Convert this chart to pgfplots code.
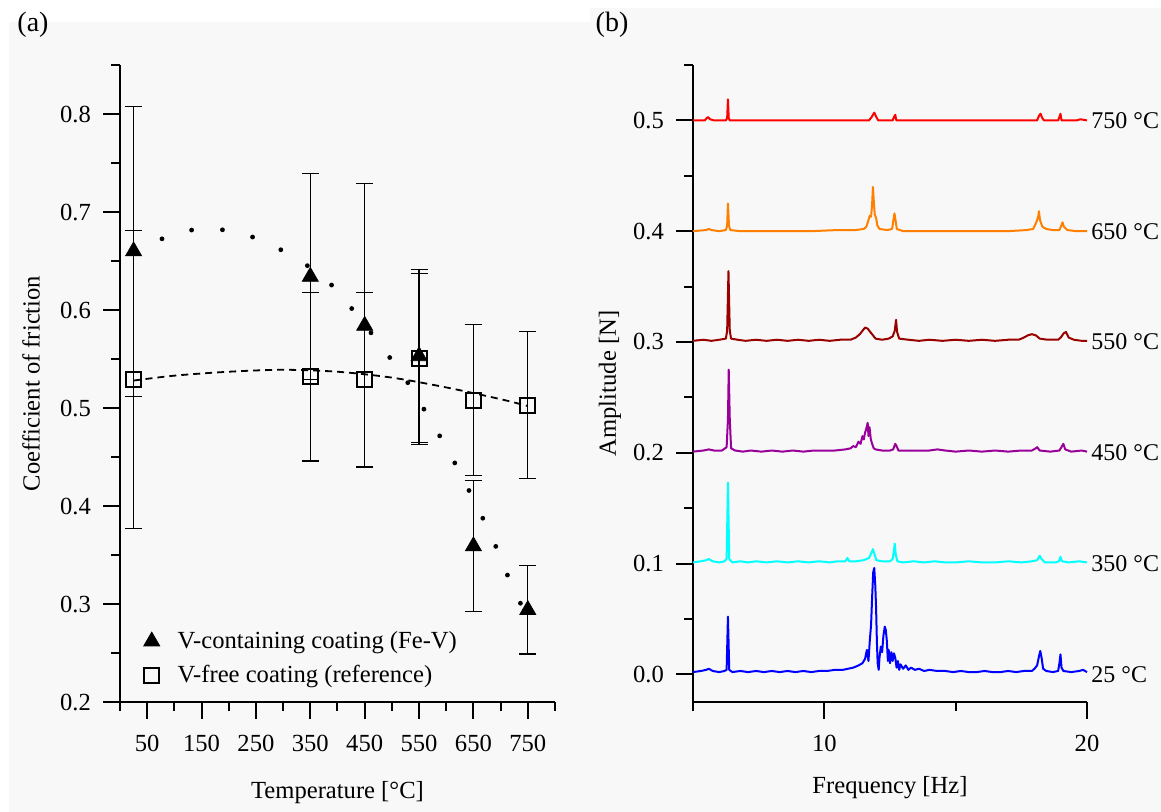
\documentclass[border=0pt]{standalone}
\usepackage{fontspec}
\setmainfont{Liberation Serif}
\usepackage{pgfplots}
\pgfplotsset{compat=1.18}
\definecolor{bgg}{RGB}{248,248,248}
\definecolor{c450}{RGB}{153,0,153}
\definecolor{c550}{RGB}{153,0,0}
\definecolor{c650}{RGB}{255,128,0}
\definecolor{c350}{RGB}{0,255,255}
\newcommand{\fs}{\fontsize{12.3}{14.8}\selectfont}
\newcommand{\fl}{\fontsize{12}{14}\selectfont}
\tikzset{tlab/.style={anchor=west, inner sep=2pt, font=\fl}}
\pgfplotsset{
  myaxis/.style={
    scale only axis,
    axis lines=left,
    axis line style={-, line width=1pt, black},
    tick align=outside,
    major tick length=8.5pt,
    minor tick length=4.5pt,
    every tick/.style={black, line width=1pt},
    tick label style={font=\fs},
    xticklabel style={yshift=-4.5pt},
    yticklabel style={xshift=-2.5pt},
    label style={font=\fs},
    /pgf/number format/assume math mode=true,
    /pgf/number format/.cd, fixed, fixed zerofill, precision=1, /pgfplots/.cd,
    clip=false,
  }
}
\begin{document}
\begin{tikzpicture}[font=\fs]
\path[use as bounding box] (0,0) rectangle (580.5pt,406pt);
\fill[bgg] (4.5pt,0) rectangle (295pt,395pt);
\fill[bgg] (295pt,0) rectangle (580.5pt,402pt);
\node[font=\fontsize{14}{16}\selectfont] at (16.5pt,393.5pt) {(a)};
\node[font=\fontsize{14}{16}\selectfont] at (306pt,393.5pt) {(b)};

% ---------------- panel (a)
\begin{axis}[myaxis,
  at={(60pt,55pt)}, anchor=south west,
  width=217.5pt, height=318.5pt,
  xmin=0, xmax=800, ymin=0.2, ymax=0.85,
  xtick={50,150,250,350,450,550,650,750},
  minor xtick={0,100,200,300,400,500,600,700,800},
  ytick={0.2,0.3,0.4,0.5,0.6,0.7,0.8},
  minor ytick={0.25,0.35,0.45,0.55,0.65,0.75,0.85},
  xticklabel style={/pgf/number format/precision=0, /pgf/number format/fixed zerofill=false},
  xlabel={Temperature [°C]},
  ylabel={Coefficient of friction},
  xlabel style={at={(rel axis cs:0.5,0)}, anchor=center, yshift=-45.5pt},
  ylabel style={at={(rel axis cs:0,0.5)}, anchor=center, yshift=44.5pt},
  legend cell align=left,
  legend style={draw=none, fill=none, at={(axis cs:43,0.2444)}, anchor=west,
    font=\fs, row sep=3pt, inner sep=0pt,
    /tikz/every odd column/.append style={column sep=7pt}},
]
\addplot[black, line width=2.4pt, dash pattern=on 0pt off 15.5pt, line cap=round, smooth, forget plot] table {
x y
25 0.660
51 0.666
107 0.679
168 0.683
230 0.677
283 0.665
335 0.649
390 0.625
424 0.603
482 0.562
534 0.522
564 0.494
599 0.461
626 0.433
657 0.399
684 0.368
708 0.336
721 0.318
749 0.287
};
\addplot[black, line width=0.9pt, dash pattern=on 3.5pt off 2.5pt, smooth, forget plot] table {
x y
25 0.528
100 0.533
200 0.537
300 0.539
400 0.537
500 0.531
600 0.521
700 0.509
750 0.502
};
\addplot[black, only marks, mark=triangle*, mark size=4.6pt,
  error bars/.cd, y dir=both, y explicit,
  error bar style={line width=0.6pt, black},
  error mark options={rotate=90, mark size=4.25pt, line width=0.6pt, black}]
  table[x=x, y=y, y error=e] {
x y e
25 0.660 0.148
350 0.634 0.105
450 0.584 0.145
550 0.553 0.088
650 0.359 0.067
750 0.294 0.045
};
\addlegendentry{V-containing coating (Fe-V)}
\addplot[black, only marks, mark=square, mark size=3.75pt, mark options={solid, line width=1pt},
  error bars/.cd, y dir=both, y explicit,
  error bar style={line width=0.6pt, black},
  error mark options={rotate=90, mark size=4.25pt, line width=0.6pt, black}]
  table[x=x, y=y, y error=e] {
x y e
25 0.529 0.152
350 0.532 0.086
450 0.529 0.089
550 0.550 0.087
650 0.508 0.077
750 0.503 0.075
};
\addlegendentry{V-free coating (reference)}
\end{axis}

% ---------------- panel (b)
\begin{axis}[myaxis,
  at={(346.5pt,55pt)}, anchor=south west,
  width=197pt, height=318.5pt,
  xmin=5, xmax=20, ymin=-0.025, ymax=0.55,
  xtick={10,20}, minor xtick={5,15},
  ytick={0,0.1,0.2,0.3,0.4,0.5},
  minor ytick={0.05,0.15,0.25,0.35,0.45,0.55},
  xticklabel style={/pgf/number format/precision=0, /pgf/number format/fixed zerofill=false},
  xlabel={Frequency [Hz]},
  ylabel={Amplitude [N]},
  xlabel style={at={(rel axis cs:0.5,0)}, anchor=center, yshift=-43pt},
  ylabel style={at={(rel axis cs:0,0.5)}, anchor=center, yshift=41.5pt},
  no markers,
  every axis plot/.append style={line width=1pt, line join=round},
]
\addplot[blue] table {
x y
5.0 0.002
5.3 0.003
5.5 0.004
5.6 0.005
5.75 0.003
6.0 0.002
6.2 0.003
6.28 0.004
6.33 0.052
6.38 0.004
6.5 0.002
6.8 0.003
7.1 0.002
7.4 0.003
7.7 0.002
8.0 0.003
8.3 0.002
8.6 0.003
8.9 0.002
9.2 0.003
9.5 0.002
9.8 0.003
10.1 0.003
10.4 0.004
10.7 0.004
10.9 0.005
11.1 0.006
11.3 0.008
11.45 0.010
11.55 0.014
11.62 0.022
11.68 0.012
11.73 0.030
11.78 0.045
11.82 0.070
11.86 0.092
11.9 0.096
11.94 0.080
11.97 0.060
12.0 0.030
12.03 0.010
12.07 0.004
12.1 0.015
12.15 0.025
12.2 0.020
12.25 0.035
12.3 0.043
12.34 0.040
12.38 0.030
12.42 0.012
12.45 0.022
12.5 0.010
12.55 0.020
12.6 0.012
12.65 0.019
12.7 0.015
12.75 0.006
12.8 0.012
12.85 0.004
12.9 0.009
13.0 0.005
13.1 0.008
13.2 0.004
13.3 0.006
13.45 0.004
13.6 0.005
13.8 0.003
14.0 0.004
14.3 0.003
14.6 0.003
14.9 0.002
15.2 0.003
15.5 0.002
15.8 0.002
16.1 0.003
16.4 0.002
16.7 0.002
17.0 0.003
17.3 0.002
17.6 0.003
17.9 0.003
18.0 0.005
18.1 0.008
18.17 0.016
18.22 0.021
18.27 0.015
18.33 0.005
18.45 0.003
18.7 0.002
18.9 0.003
18.95 0.010
18.99 0.018
19.03 0.006
19.1 0.003
19.4 0.002
19.7 0.003
19.85 0.004
20.0 0.002
};
\addplot[c350] table {
x y
5.0 0.101
5.3 0.102
5.5 0.103
5.6 0.104
5.75 0.102
6.0 0.101
6.2 0.102
6.28 0.104
6.33 0.173
6.38 0.104
6.5 0.101
6.8 0.102
7.1 0.101
7.4 0.102
7.8 0.101
8.2 0.102
8.6 0.101
9.0 0.102
9.4 0.101
9.8 0.102
10.2 0.101
10.5 0.102
10.8 0.102
10.88 0.105
10.95 0.102
11.2 0.102
11.5 0.103
11.7 0.105
11.8 0.110
11.85 0.113
11.9 0.109
11.98 0.103
12.2 0.102
12.5 0.102
12.6 0.104
12.65 0.112
12.68 0.118
12.72 0.108
12.78 0.102
13.0 0.101
13.4 0.102
13.8 0.101
14.2 0.102
14.6 0.101
15.0 0.101
15.5 0.102
16.0 0.101
16.5 0.101
17.0 0.102
17.5 0.101
17.9 0.102
18.1 0.103
18.2 0.107
18.27 0.104
18.4 0.101
18.8 0.101
18.93 0.102
18.99 0.106
19.05 0.102
19.3 0.101
19.7 0.102
20.0 0.101
};
\addplot[c450] table {
x y
5.0 0.201
5.4 0.202
5.6 0.203
5.8 0.202
6.1 0.202
6.28 0.205
6.33 0.230
6.36 0.275
6.40 0.230
6.45 0.204
6.6 0.202
6.9 0.201
7.2 0.202
7.6 0.201
8.0 0.202
8.4 0.201
8.8 0.202
9.2 0.201
9.6 0.202
10.0 0.202
10.4 0.202
10.8 0.203
11.0 0.204
11.1 0.206
11.2 0.205
11.3 0.210
11.38 0.208
11.45 0.215
11.5 0.212
11.55 0.218
11.6 0.222
11.65 0.227
11.68 0.215
11.72 0.223
11.77 0.212
11.82 0.208
11.88 0.204
11.95 0.203
12.2 0.202
12.5 0.202
12.62 0.203
12.7 0.208
12.75 0.206
12.82 0.202
13.2 0.202
13.6 0.202
14.0 0.202
14.3 0.203
14.6 0.202
15.0 0.201
15.5 0.202
16.0 0.201
16.5 0.202
17.0 0.201
17.5 0.202
17.9 0.202
18.05 0.204
18.1 0.205
18.2 0.202
18.6 0.201
18.95 0.202
19.05 0.206
19.1 0.208
19.17 0.203
19.4 0.201
19.8 0.202
20.0 0.201
};
\addplot[c550] table {
x y
5.0 0.301
5.4 0.302
5.7 0.301
6.0 0.302
6.25 0.303
6.3 0.310
6.35 0.364
6.40 0.310
6.45 0.303
6.7 0.302
7.0 0.301
7.4 0.302
7.8 0.301
8.2 0.302
8.6 0.301
9.0 0.302
9.4 0.301
9.8 0.302
10.2 0.301
10.6 0.302
11.0 0.302
11.2 0.304
11.35 0.307
11.45 0.310
11.55 0.313
11.65 0.312
11.75 0.309
11.85 0.306
11.95 0.303
12.2 0.302
12.45 0.303
12.6 0.305
12.68 0.310
12.73 0.320
12.77 0.309
12.85 0.303
13.2 0.302
13.6 0.301
14.0 0.302
14.5 0.301
15.0 0.302
15.5 0.301
16.0 0.302
16.5 0.301
17.0 0.302
17.4 0.302
17.6 0.304
17.75 0.306
17.9 0.307
18.05 0.306
18.2 0.303
18.5 0.302
18.9 0.302
19.0 0.304
19.12 0.308
19.2 0.309
19.3 0.304
19.5 0.302
19.8 0.301
20.0 0.301
};
\addplot[c650] table {
x y
5.0 0.400
5.5 0.401
5.6 0.402
5.7 0.401
6.0 0.400
6.25 0.401
6.3 0.405
6.33 0.425
6.37 0.405
6.42 0.401
6.8 0.400
7.5 0.400
8.5 0.400
9.5 0.400
10.5 0.401
11.2 0.401
11.5 0.402
11.6 0.404
11.68 0.410
11.73 0.414
11.78 0.413
11.82 0.425
11.85 0.440
11.88 0.428
11.92 0.415
11.97 0.412
12.02 0.405
12.1 0.402
12.4 0.401
12.58 0.402
12.63 0.410
12.67 0.416
12.71 0.410
12.76 0.402
13.0 0.400
14.0 0.400
15.0 0.400
16.0 0.400
17.0 0.400
17.7 0.401
17.95 0.402
18.05 0.407
18.1 0.410
18.14 0.413
18.17 0.418
18.21 0.410
18.3 0.404
18.45 0.402
18.7 0.401
18.95 0.401
19.02 0.405
19.07 0.408
19.12 0.404
19.25 0.401
19.6 0.400
20.0 0.400
};
\addplot[red] table {
x y
5.0 0.500
5.45 0.500
5.52 0.502
5.57 0.503
5.65 0.501
5.8 0.500
6.25 0.500
6.3 0.502
6.33 0.519
6.36 0.502
6.4 0.500
7.0 0.500
8.0 0.500
9.0 0.500
10.0 0.500
11.0 0.500
11.7 0.500
11.8 0.503
11.9 0.507
11.98 0.503
12.05 0.500
12.6 0.500
12.65 0.503
12.7 0.505
12.74 0.500
13.5 0.500
14.5 0.500
15.5 0.500
16.5 0.500
17.5 0.500
18.1 0.500
18.17 0.504
18.23 0.506
18.3 0.502
18.36 0.500
18.9 0.500
18.95 0.503
18.99 0.506
19.03 0.500
19.6 0.500
19.75 0.501
20.0 0.500
};
\node[tlab] at (axis cs:20,0.0) {25 °C};
\node[tlab] at (axis cs:20,0.1) {350 °C};
\node[tlab] at (axis cs:20,0.2) {450 °C};
\node[tlab] at (axis cs:20,0.3) {550 °C};
\node[tlab] at (axis cs:20,0.4) {650 °C};
\node[tlab] at (axis cs:20,0.5) {750 °C};
\end{axis}
\end{tikzpicture}
\end{document}
